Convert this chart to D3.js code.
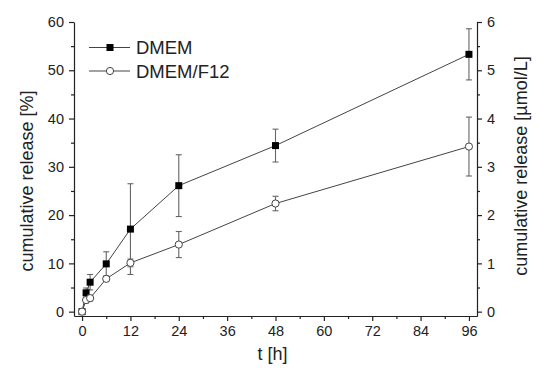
<!DOCTYPE html>
<html>
<head>
<meta charset="utf-8">
<script src="https://cdn.jsdelivr.net/npm/d3@7"></script>
<style>
  body { margin: 0; background: #fff; }
  text { font-family: Arial, "Liberation Sans", sans-serif; fill: #222; }
</style>
</head>
<body>
<div id="chart"></div>
<script>
// time points [h]
const times = [0, 1, 2, 6, 12, 24, 48, 96];
// cumulative release [%]
const dmem = [0, 3.9, 6.1, 9.9, 17.1, 26.1, 34.4, 53.3];
const dmemErr = [0, 1.0, 1.6, 2.5, 9.4, 6.4, 3.4, 5.3];
const f12 = [0, 2.4, 2.8, 6.8, 10.1, 13.9, 22.4, 34.2];
const f12Err = [0, 0.6, 0.6, 0.5, 0.8, 2.7, 1.5, 6.1];
const xTicks = [0, 12, 24, 36, 48, 60, 72, 84, 96];
const yTicks = [0, 10, 20, 30, 40, 50, 60];
const y2Ticks = [0, 1, 2, 3, 4, 5, 6];

const W = 546, H = 378;
const plot = { left: 74, right: 477, top: 22, bottom: 316 };

const svg = d3.select("#chart").append("svg")
  .attr("width", W).attr("height", H);

const x = d3.scaleLinear().domain([-2, 98]).range([plot.left, plot.right]);
const y = d3.scaleLinear().domain([-0.9, 60]).range([plot.bottom, plot.top]);
const y2 = d3.scaleLinear().domain([-0.09, 6]).range([plot.bottom, plot.top]);

function styleAxis(g) {
  g.select(".domain").attr("stroke", "#222").attr("stroke-width", 1.2);
  g.selectAll(".tick line").attr("stroke", "#222").attr("stroke-width", 1.2);
  g.selectAll(".tick text").style("font-size", "14.5px").attr("fill", "#222");
}
function styleMinor(g) {
  g.select(".domain").remove();
  g.selectAll("line").attr("stroke", "#222").attr("stroke-width", 1.2);
}

// minor ticks
const xMinor = d3.range(6, 96, 12);
const yMinor = d3.range(5, 60, 10);
const y2Minor = d3.range(0.5, 6, 1);

svg.append("g").attr("transform", `translate(0,${plot.bottom})`)
  .call(d3.axisBottom(x).tickValues(xMinor).tickSize(3).tickFormat("").tickSizeOuter(0))
  .call(styleMinor);
svg.append("g").attr("transform", `translate(${plot.left},0)`)
  .call(d3.axisLeft(y).tickValues(yMinor).tickSize(3).tickFormat("").tickSizeOuter(0))
  .call(styleMinor);
svg.append("g").attr("transform", `translate(${plot.right},0)`)
  .call(d3.axisRight(y2).tickValues(y2Minor).tickSize(3).tickFormat("").tickSizeOuter(0))
  .call(styleMinor);

// major axes
svg.append("g").attr("transform", `translate(0,${plot.bottom})`)
  .call(d3.axisBottom(x).tickValues(xTicks).tickSize(5).tickPadding(5).tickSizeOuter(0))
  .call(styleAxis);
svg.append("g").attr("transform", `translate(${plot.left},0)`)
  .call(d3.axisLeft(y).tickValues(yTicks).tickSize(5).tickPadding(5).tickSizeOuter(0))
  .call(styleAxis);
svg.append("g").attr("transform", `translate(${plot.right},0)`)
  .call(d3.axisRight(y2).tickValues(y2Ticks).tickFormat(d3.format("d"))
    .tickSize(5).tickPadding(5).tickSizeOuter(0))
  .call(styleAxis);

// axis titles
svg.append("text")
  .attr("x", (plot.left + plot.right) / 2 - 3).attr("y", 360)
  .attr("text-anchor", "middle").style("font-size", "18px")
  .text("t [h]");
svg.append("text")
  .attr("transform", `translate(33,181) rotate(-90)`)
  .attr("text-anchor", "middle").style("font-size", "18px")
  .text("cumulative release [%]");
svg.append("text")
  .attr("transform", `translate(527,166) rotate(-90)`)
  .attr("text-anchor", "middle").style("font-size", "18px")
  .text("cumulative release [µmol/L]");

const series = [
  { name: "DMEM", vals: dmem, err: dmemErr, shape: "square" },
  { name: "DMEM/F12", vals: f12, err: f12Err, shape: "circle" }
];

const line = d3.line().x(d => x(d[0])).y(d => y(d[1]));

series.forEach(s => {
  const pts = times.map((t, i) => [t, s.vals[i], s.err[i]]);
  const g = svg.append("g");

  // error bars
  const eb = g.selectAll(".err").data(pts.filter(d => d[2] > 0)).enter().append("g")
    .attr("stroke", "#666").attr("stroke-width", 1.1);
  eb.append("line")
    .attr("x1", d => x(d[0])).attr("x2", d => x(d[0]))
    .attr("y1", d => y(d[1] - d[2])).attr("y2", d => y(d[1] + d[2]));
  eb.append("line")
    .attr("x1", d => x(d[0]) - 3).attr("x2", d => x(d[0]) + 3)
    .attr("y1", d => y(d[1] + d[2])).attr("y2", d => y(d[1] + d[2]));
  eb.append("line")
    .attr("x1", d => x(d[0]) - 3).attr("x2", d => x(d[0]) + 3)
    .attr("y1", d => y(d[1] - d[2])).attr("y2", d => y(d[1] - d[2]));

  g.append("path").datum(pts)
    .attr("fill", "none").attr("stroke", "#444").attr("stroke-width", 1)
    .attr("d", line);

  if (s.shape === "square") {
    g.selectAll(".pt").data(pts).enter().append("rect")
      .attr("x", d => x(d[0]) - 3.5).attr("y", d => y(d[1]) - 3.5)
      .attr("width", 7).attr("height", 7).attr("fill", "#000");
  } else {
    g.selectAll(".pt").data(pts).enter().append("circle")
      .attr("cx", d => x(d[0])).attr("cy", d => y(d[1])).attr("r", 3.6)
      .attr("fill", "#fff").attr("stroke", "#444").attr("stroke-width", 1);
  }
});

// legend
const legend = svg.append("g");
series.forEach((s, i) => {
  const ly = 47.5 + i * 23.5;
  legend.append("line").attr("x1", 89).attr("x2", 130).attr("y1", ly).attr("y2", ly)
    .attr("stroke", "#444").attr("stroke-width", 1);
  if (s.shape === "square") {
    legend.append("rect").attr("x", 110 - 3.5).attr("y", ly - 3.5)
      .attr("width", 7).attr("height", 7).attr("fill", "#000");
  } else {
    legend.append("circle").attr("cx", 110).attr("cy", ly).attr("r", 3.6)
      .attr("fill", "#fff").attr("stroke", "#444");
  }
  legend.append("text").attr("x", 136).attr("y", ly + 6.5)
    .style("font-size", "18.5px").text(s.name);
});
</script>
</body>
</html>
